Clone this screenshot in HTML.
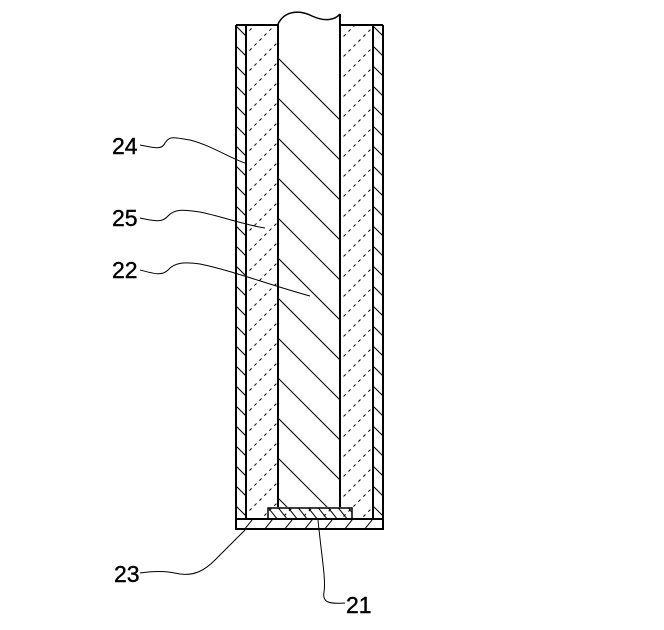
<!DOCTYPE html>
<html><head><style>
html,body{margin:0;padding:0;background:#fff;width:664px;height:630px;overflow:hidden;}
svg{display:block;}
text{font-family:"Liberation Sans",sans-serif;font-size:23px;fill:#000;stroke:#000;stroke-width:0.4;}
</style></head><body>
<svg width="664" height="630" viewBox="0 0 664 630" xmlns="http://www.w3.org/2000/svg">
<defs>
<clipPath id="rod"><path d="M278,24 C285,10 300,10 312,16 C325,22 335,20 340,14 L340,507 L278,507 Z"/></clipPath>
<clipPath id="l25"><rect x="246" y="25" width="32" height="494"/><rect x="340" y="25" width="33" height="494"/><rect x="246" y="507" width="127" height="12"/></clipPath>
<clipPath id="l24"><rect x="236" y="25" width="10" height="494"/><rect x="373" y="25" width="10" height="494"/></clipPath>
<clipPath id="l23"><rect x="236" y="519" width="147" height="10"/></clipPath>
<clipPath id="l21"><rect x="268" y="508" width="84" height="11"/></clipPath>
</defs>
<g stroke="#000" fill="none">
<g clip-path="url(#rod)" stroke-width="1">
<path d="M200,-20 l200,200 M200,20 l200,200 M200,60 l200,200 M200,100 l200,200 M200,140 l200,200 M200,180 l200,200 M200,220 l200,200 M200,260 l200,200 M200,300 l200,200 M200,340 l200,200 M200,380 l200,200 M200,420 l200,200 M200,460 l200,200"/>
</g>
<g clip-path="url(#l25)" stroke-width="1" stroke-dasharray="3,4">
<path d="M200,60 l200,-200 M200,80 l200,-200 M200,100 l200,-200 M200,120 l200,-200 M200,140 l200,-200 M200,160 l200,-200 M200,180 l200,-200 M200,200 l200,-200 M200,220 l200,-200 M200,240 l200,-200 M200,260 l200,-200 M200,280 l200,-200 M200,300 l200,-200 M200,320 l200,-200 M200,340 l200,-200 M200,360 l200,-200 M200,380 l200,-200 M200,400 l200,-200 M200,420 l200,-200 M200,440 l200,-200 M200,460 l200,-200 M200,480 l200,-200 M200,500 l200,-200 M200,520 l200,-200 M200,540 l200,-200 M200,560 l200,-200 M200,580 l200,-200 M200,600 l200,-200 M200,620 l200,-200 M200,640 l200,-200 M200,660 l200,-200 M200,680 l200,-200 M200,700 l200,-200 M200,720 l200,-200"/>
</g>
<g clip-path="url(#l24)" stroke-width="1">
<path d="M230,20 l20,20 M230,40 l20,20 M230,60 l20,20 M230,80 l20,20 M230,100 l20,20 M230,120 l20,20 M230,140 l20,20 M230,160 l20,20 M230,180 l20,20 M230,200 l20,20 M230,220 l20,20 M230,240 l20,20 M230,260 l20,20 M230,280 l20,20 M230,300 l20,20 M230,320 l20,20 M230,340 l20,20 M230,360 l20,20 M230,380 l20,20 M230,400 l20,20 M230,420 l20,20 M230,440 l20,20 M230,460 l20,20 M230,480 l20,20 M230,500 l20,20
M367,20 l20,20 M367,40 l20,20 M367,60 l20,20 M367,80 l20,20 M367,100 l20,20 M367,120 l20,20 M367,140 l20,20 M367,160 l20,20 M367,180 l20,20 M367,200 l20,20 M367,220 l20,20 M367,240 l20,20 M367,260 l20,20 M367,280 l20,20 M367,300 l20,20 M367,320 l20,20 M367,340 l20,20 M367,360 l20,20 M367,380 l20,20 M367,400 l20,20 M367,420 l20,20 M367,440 l20,20 M367,460 l20,20 M367,480 l20,20 M367,500 l20,20"/>
</g>
<g clip-path="url(#l23)" stroke-width="1">
<path d="M236,540 l20,-25 M256,540 l20,-25 M276,540 l20,-25 M296,540 l20,-25 M316,540 l20,-25 M336,540 l20,-25 M356,540 l20,-25 M376,540 l20,-25"/>
</g>
<g clip-path="url(#l21)" stroke-width="1">
<path d="M266,505 l12,15 M276,505 l12,15 M286,505 l12,15 M296,505 l12,15 M306,505 l12,15 M316,505 l12,15 M326,505 l12,15 M336,505 l12,15 M346,505 l12,15"/>
</g>
<g stroke-width="2">
<path d="M236,25 L236,529 L383,529 L383,25"/>
<path d="M246,25 L246,519 M373,25 L373,519"/>
<path d="M236,25 L278,25 M340,25 L383,25"/>
<path d="M278,24 L278,507 M340,14 L340,507"/>
<path d="M236,519 L383,519"/>
<rect x="268" y="508" width="84" height="11" stroke-width="1.5"/>
</g>
<path d="M278,24 C285,10 300,10 312,16 C325,22 335,20 340,14" stroke-width="1.5"/>
<g stroke-width="1">
<path d="M140,145 C155,148 162,150 165,143 C170,135 175,138 190,140 C210,145 230,158 245,163"/>
<path d="M140,218 C155,221 162,223 168,216 C175,208 185,210 200,212 C220,216 245,225 265,228"/>
<path d="M140,270 C155,274 162,276 168,270 C175,262 185,262 200,264 C230,270 270,285 310,296"/>
<path d="M140,573 C160,570 170,572 180,574 C195,576 205,570 215,560 C225,550 235,540 245,530"/>
<path d="M345,603 C330,604 322,603 324,592 C326,580 322,560 318,520"/>
</g>
</g>
<text x="112" y="154">24</text>
<text x="112" y="226">25</text>
<text x="112" y="278">22</text>
<text x="114" y="582">23</text>
<text x="346" y="613">21</text>
</svg>
</body></html>
